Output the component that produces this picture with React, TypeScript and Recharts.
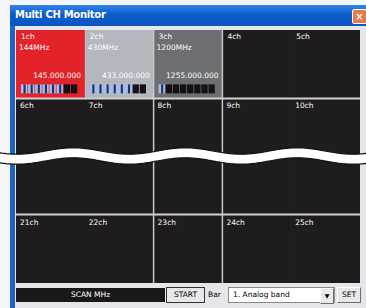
import React from 'react';
import { BarChart, Bar, XAxis, YAxis, ReferenceLine } from 'recharts';

const columns = ['c1', 'c2', 'c3', 'c4', 'c5'];
const topLabels = ['1ch', '2ch', '3ch', '4ch', '5ch'];
const midLabels = ['6ch', '7ch', '8ch', '9ch', '10ch'];
const bottomLabels = ['21ch', '22ch', '23ch', '24ch', '25ch'];
const bandNames = ['144MHz', '430MHz', '1200MHz', '', ''];
const frequencies = ['145.000.000', '433.000.000', '1255.000.000', '', ''];
const meterLevels = [6, 6, 1, 0, 0];
const cellColors = ['#e2232a', '#b4b7be', '#6c6e71', '#1f1c1d', '#1f1c1d'];
// columns that show a divider on their left edge
const leftDivider = [false, false, true, true, false];
// row heights in grid units: top row, middle (cut) block, bottom row
const rowSpans = [1, 1.7, 1];

const METER_SEGMENTS = 8;
const FONT = '"DejaVu Sans", "Liberation Sans", sans-serif';

const data = columns.map((col, i) => ({
  col,
  top: rowSpans[0],
  mid: rowSpans[1],
  bottom: rowSpans[2],
  topLabel: topLabels[i],
  midLabel: midLabels[i],
  bottomLabel: bottomLabels[i],
  band: bandNames[i],
  freq: frequencies[i],
  level: meterLevels[i],
  color: cellColors[i],
  divider: leftDivider[i],
}));

// reversed axis hands us a negative height, so normalise the box
const box = (props: any) => {
  const h = Math.abs(props.height);
  const y = props.height < 0 ? props.y + props.height : props.y;
  return { x: props.x, y, w: props.width, h };
};

const Divider = ({ x, y, h }: any) => (
  <line x1={x} x2={x} y1={y} y2={y + h} stroke="#c8c8c8" strokeWidth={1.5} />
);

const TopCell = (props: any) => {
  const { payload } = props;
  const { x, y, w, h } = box(props);
  const segW = (w - 12) / METER_SEGMENTS;
  const meterY = y + h - 14;
  return (
    <g>
      <rect x={x} y={y} width={w + 0.5} height={h} fill={payload.color} />
      {payload.divider && <Divider x={x} y={y} h={h} />}
      <text x={x + 5} y={y + 9} fill="#fff" fontSize={7.5} fontFamily={FONT}>{payload.topLabel}</text>
      <text x={x + 3} y={y + 20} fill="#fff" fontSize={7.5} fontFamily={FONT}>{payload.band}</text>
      {payload.freq && (
        <text x={x + w - 4} y={y + 48} fill="#fff" fontSize={7.5} textAnchor="end" fontFamily={FONT}>
          {payload.freq}
        </text>
      )}
      {payload.freq &&
        Array.from({ length: METER_SEGMENTS }).map((_, k) => {
          const lit = k < payload.level;
          return (
            <g key={k}>
              <rect x={x + 5 + k * segW} y={meterY} width={segW - 0.8} height={9} fill={lit ? '#a9bde9' : '#141214'} />
              {lit && <rect x={x + 5 + k * segW + segW * 0.35} y={meterY} width={segW * 0.3} height={9} fill="#22306e" />}
            </g>
          );
        })}
    </g>
  );
};

const PlainCell = (labelKey: string) => (props: any) => {
  const { payload } = props;
  const { x, y, w, h } = box(props);
  return (
    <g>
      <rect x={x} y={y} width={w + 0.5} height={h} fill="#1f1c1d" />
      {payload.divider && <Divider x={x} y={y} h={h} />}
      {payload[labelKey] && (
        <text x={x + 4} y={y + 10} fill="#fff" fontSize={7.5} fontFamily={FONT}>{payload[labelKey]}</text>
      )}
    </g>
  );
};

const MidCell = PlainCell('midLabel');
const BottomCell = PlainCell('bottomLabel');

// decorative "cut" band drawn across the whole window
const wavePath = (offset: number, reverse = false) => {
  const pts: string[] = [];
  for (let px = 0; px <= 366; px += 2) {
    const py = 156 + offset + 3.2 * Math.sin((px / 112) * Math.PI * 2 + 0.6);
    pts.push(px + ' ' + py.toFixed(1));
  }
  if (reverse) pts.reverse();
  return pts;
};

const bevel = {
  borderTop: '1px solid #fff',
  borderLeft: '1px solid #fff',
  borderRight: '1px solid #6d6d6d',
  borderBottom: '1px solid #6d6d6d',
  background: '#e8e8ea',
};

export default function App() {
  const upperD = 'M' + wavePath(-5).join(' L');
  const lowerD = 'M' + wavePath(5).join(' L');
  const bandD = upperD + ' L' + wavePath(5, true).join(' L') + ' Z';
  return (
    <div style={{ position: 'absolute', left: 0, top: 0, width: 366, height: 308, background: '#f4f5f7', overflow: 'hidden', fontFamily: FONT }}>
      {/* window frame */}
      <div style={{ position: 'absolute', left: 10, top: 5, width: 360, height: 310, background: '#e4e6ea', borderLeft: '5px solid #1f63c4' }} />
      {/* title bar */}
      <div
        style={{
          position: 'absolute', left: 10, top: 5, width: 360, height: 21,
          background: 'linear-gradient(180deg, #2f86ea 0%, #0d5ccc 45%, #0b55c2 100%)',
        }}
      >
        <span style={{ position: 'absolute', left: 5, top: 4, color: '#fff', fontSize: 10, fontWeight: 'bold', letterSpacing: -0.3 }}>
          Multi CH Monitor
        </span>
        <div
          style={{
            position: 'absolute', left: 342, top: 4, width: 13, height: 13, background: '#e57a45',
            border: '1px solid #fff', borderRadius: 2, color: '#fff', fontSize: 10, lineHeight: '13px', textAlign: 'center', fontWeight: 'bold',
          }}
        >
          ×
        </div>
      </div>

      {/* channel grid */}
      <div style={{ position: 'absolute', left: 16, top: 30 }}>
        <BarChart width={344} height={253} data={data} margin={{ top: 0, right: 0, bottom: 0, left: 0 }} barCategoryGap={0} barGap={0}>
          <XAxis dataKey="col" hide />
          <YAxis type="number" domain={[0, rowSpans[0] + rowSpans[1] + rowSpans[2]]} allowDataOverflow reversed hide />
          <Bar dataKey="top" stackId="g" shape={TopCell} isAnimationActive={false} />
          <Bar dataKey="mid" stackId="g" shape={MidCell} isAnimationActive={false} />
          <Bar dataKey="bottom" stackId="g" shape={BottomCell} isAnimationActive={false} />
          <ReferenceLine y={rowSpans[0]} stroke="#d2d2d2" strokeWidth={2} />
          <ReferenceLine y={rowSpans[0] + rowSpans[1]} stroke="#d2d2d2" strokeWidth={2} />
        </BarChart>
      </div>

      {/* cut band */}
      <svg width={366} height={308} style={{ position: 'absolute', left: 0, top: 0, pointerEvents: 'none' }}>
        <path d={bandD} fill="#fff" />
        <path d={upperD} fill="none" stroke="#111" strokeWidth={1.2} />
        <path d={lowerD} fill="none" stroke="#111" strokeWidth={1.2} />
      </svg>

      {/* bottom controls */}
      <div
        style={{
          position: 'absolute', left: 16, top: 288, width: 149, height: 14, background: '#1a1718',
          color: '#fff', fontSize: 7.5, lineHeight: '14px', textAlign: 'center',
        }}
      >
        SCAN MHz
      </div>
      <div style={{ position: 'absolute', left: 166, top: 287, width: 37, height: 14, ...bevel, border: '1px solid #333', fontSize: 7.5, lineHeight: '14px', textAlign: 'center' }}>
        START
      </div>
      <div style={{ position: 'absolute', left: 208, top: 290, fontSize: 7.5 }}>Bar</div>
      <div style={{ position: 'absolute', left: 228, top: 287, width: 105, height: 14, background: '#fff', border: '1px solid #8a8a8a', fontSize: 7.5, lineHeight: '14px' }}>
        <span style={{ marginLeft: 4 }}>1. Analog band</span>
        <div style={{ position: 'absolute', right: 0, top: 0, width: 12, height: 14, ...bevel, fontSize: 6, lineHeight: '14px', textAlign: 'center' }}>▼</div>
      </div>
      <div style={{ position: 'absolute', left: 337, top: 287, width: 22, height: 14, ...bevel, fontSize: 7.5, lineHeight: '14px', textAlign: 'center' }}>
        SET
      </div>
    </div>
  );
}
